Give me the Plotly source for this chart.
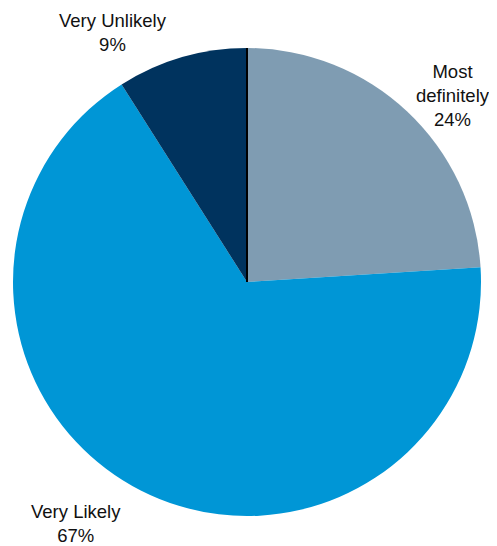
import plotly.graph_objects as go

labels = ["Most definitely", "Very Likely", "Very Unlikely"]
values = [24, 67, 9]
colors = ["#7f9cb2", "#0096d6", "#00335e"]
label_text = ["Most<br>definitely", "Very Likely", "Very Unlikely"]

OFF = 8  # page body margin
W, H = 497 - OFF, 546 - OFF
cx, cy, r = 247 - OFF, 282 - OFF, 234

fig = go.Figure(go.Pie(
    labels=labels, values=values, sort=False, direction="clockwise", rotation=0,
    marker=dict(colors=colors, line=dict(width=0)),
    textinfo="none", hoverinfo="label+percent", showlegend=False,
    domain=dict(x=[(cx - r) / W, (cx + r) / W], y=[1 - (cy + r) / H, 1 - (cy - r) / H]),
))

# label centre positions (window pixels)
label_pos = [(453, 95), (76, 523), (113, 33)]
for t, v, (px, py) in zip(label_text, values, label_pos):
    fig.add_annotation(x=(px - OFF) / W, y=1 - (py - OFF) / H, xref="paper", yref="paper",
                       text=f"{t}<br>{v}%", showarrow=False, xanchor="center", yanchor="middle",
                       font=dict(family="Liberation Sans, Arial, sans-serif", size=18.5, color="#111"))

fig.add_shape(type="line", xref="paper", yref="paper",
              x0=cx / W, x1=cx / W, y0=1 - cy / H, y1=1 - (cy - r) / H,
              line=dict(color="black", width=2))

fig.update_layout(width=W, height=H, margin=dict(l=0, r=0, t=0, b=0),
                  paper_bgcolor="white", plot_bgcolor="white")
fig.write_html("out.html")
